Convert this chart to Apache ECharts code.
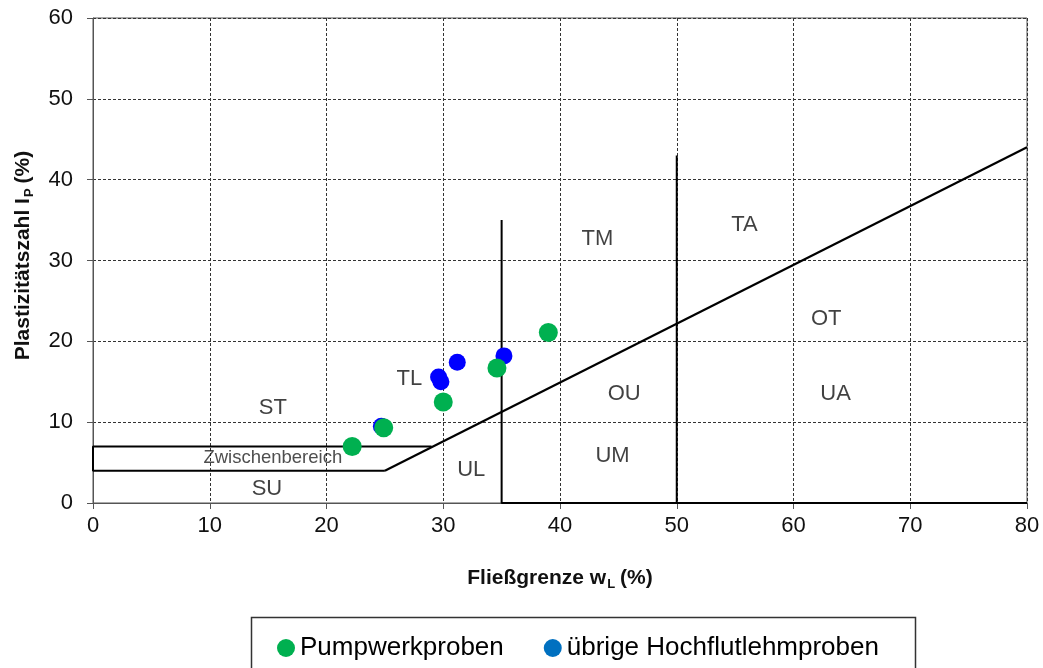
<!DOCTYPE html>
<html>
<head>
<meta charset="utf-8">
<script src="https://cdn.jsdelivr.net/npm/echarts@6/dist/echarts.min.js"></script>
<style>
html,body{margin:0;padding:0;background:#fff;}
#chart{width:1043px;height:668px;}
</style>
</head>
<body>
<div id="chart"></div>
<script>
// --- data ---
const xTicks = [0, 80, 10];   // min, max, interval
const yTicks = [0, 60, 10];
const pumpwerk = [[22.2, 7.0], [24.9, 9.3], [30.0, 12.5], [34.6, 16.7], [39.0, 21.1]];
const uebrige = [[24.7, 9.5], [29.6, 15.6], [29.8, 15.0], [31.2, 17.4], [35.2, 18.2]];
const aLine = [[25, 4], [80, 44]];
const zwischenBox = [[29, 7], [0, 7], [0, 4], [25, 4]];
const line35 = [[35, 35], [35, 0], [80, 0]];
const line50 = [[50, 43], [50, 0]];
const zoneLabels = [
  [15.4, 11.7, 'ST'], [27.1, 15.4, 'TL'], [43.2, 32.7, 'TM'], [55.8, 34.4, 'TA'],
  [62.8, 22.8, 'OT'], [45.5, 13.5, 'OU'], [63.6, 13.5, 'UA'], [44.5, 5.8, 'UM'],
  [32.4, 4.1, 'UL'], [14.9, 1.8, 'SU']
];
const smallLabels = [[15.4, 5.6, 'Zwischenbereich']];
const seriesNames = ['Pumpwerkproben', 'übrige Hochflutlehmproben'];

const FONT = '"Liberation Sans", Arial, sans-serif';
const chart = echarts.init(document.getElementById('chart'));

function lineSeries(data, w) {
  return {
    type: 'line', data: data, symbol: 'none', silent: true,
    lineStyle: { color: '#000', width: w }, z: 3
  };
}
const titleRich = {
  b: { fontSize: 21, fontWeight: 'bold', color: '#111', fontFamily: FONT, lineHeight: 26 },
  s: { fontSize: 13, fontWeight: 'bold', color: '#111', fontFamily: FONT, lineHeight: 14, verticalAlign: 'bottom', padding: [0, 5, 0, 1] }
};

const option = {
  animation: false,
  textStyle: { fontFamily: FONT },
  grid: { left: 93, right: 16, top: 18, bottom: 165, show: true, borderColor: '#555', borderWidth: 1 },
  xAxis: {
    type: 'value', min: xTicks[0], max: xTicks[1], interval: xTicks[2],
    axisLine: { lineStyle: { color: '#555', width: 1 } },
    axisTick: { show: true, length: 6, lineStyle: { color: '#555' } },
    axisLabel: { color: '#111', fontSize: 22, fontFamily: FONT, margin: 12 },
    splitLine: { show: true, lineStyle: { color: '#333', type: [3, 2], width: 1 } },
    name: '{b|Fließgrenze w}{s|L}{b|(%)}', nameLocation: 'middle', nameGap: 62,
    nameTextStyle: { rich: titleRich }
  },
  yAxis: {
    type: 'value', min: yTicks[0], max: yTicks[1], interval: yTicks[2],
    axisLine: { show: true, lineStyle: { color: '#555', width: 1 } },
    axisTick: { show: true, length: 6, lineStyle: { color: '#555' } },
    axisLabel: { color: '#111', fontSize: 22, fontFamily: FONT, margin: 20 },
    splitLine: { show: true, lineStyle: { color: '#333', type: [3, 2], width: 1 } },
    name: '{b|Plastizitätszahl I}{s|P}{b|(%)}', nameLocation: 'middle', nameGap: 57, nameRotate: 90,
    nameTextStyle: { rich: titleRich, padding: [0, 0, 0, 10] }
  },
  legend: {
    data: [
      { name: seriesNames[0], itemStyle: { color: '#00b050' } },
      { name: seriesNames[1], itemStyle: { color: '#0070c0' } }
    ],
    left: 272, top: 630, icon: 'circle', itemWidth: 18, itemHeight: 18, itemGap: 40,
    textStyle: { fontSize: 26, color: '#000', fontFamily: FONT }
  },
  graphic: [{
    type: 'rect', left: 249, top: 615, shape: { width: 664, height: 60 },
    style: { fill: 'none', stroke: '#333', lineWidth: 1.5 }, silent: true
  }],
  series: [
    lineSeries(aLine, 2.2),
    lineSeries(zwischenBox, 2),
    lineSeries(line35, 2),
    lineSeries(line50, 2),
    {
      name: seriesNames[1], type: 'scatter', data: uebrige, symbol: 'circle', symbolSize: 17,
      itemStyle: { color: '#0000ff', opacity: 1 }, z: 4
    },
    {
      name: seriesNames[0], type: 'scatter', data: pumpwerk, symbol: 'circle', symbolSize: 19,
      itemStyle: { color: '#00b050', opacity: 1 }, z: 5
    },
    {
      type: 'scatter', symbolSize: 0, silent: true, z: 6,
      data: zoneLabels.map(d => ({
        value: [d[0], d[1]], name: d[2],
        label: d[2] === 'ST' ? { backgroundColor: '#fff', padding: [2, 10] } : {}
      })),
      label: { show: true, position: 'inside', formatter: p => p.name, fontSize: 22, color: '#111', fontFamily: FONT }
    },
    {
      type: 'scatter', symbolSize: 0, silent: true, z: 6,
      data: smallLabels.map(d => ({ value: [d[0], d[1]], name: d[2] })),
      label: { show: true, position: 'inside', formatter: p => p.name, fontSize: 18.5, color: '#222', fontFamily: FONT }
    }
  ]
};
chart.setOption(option);
</script>
</body>
</html>
